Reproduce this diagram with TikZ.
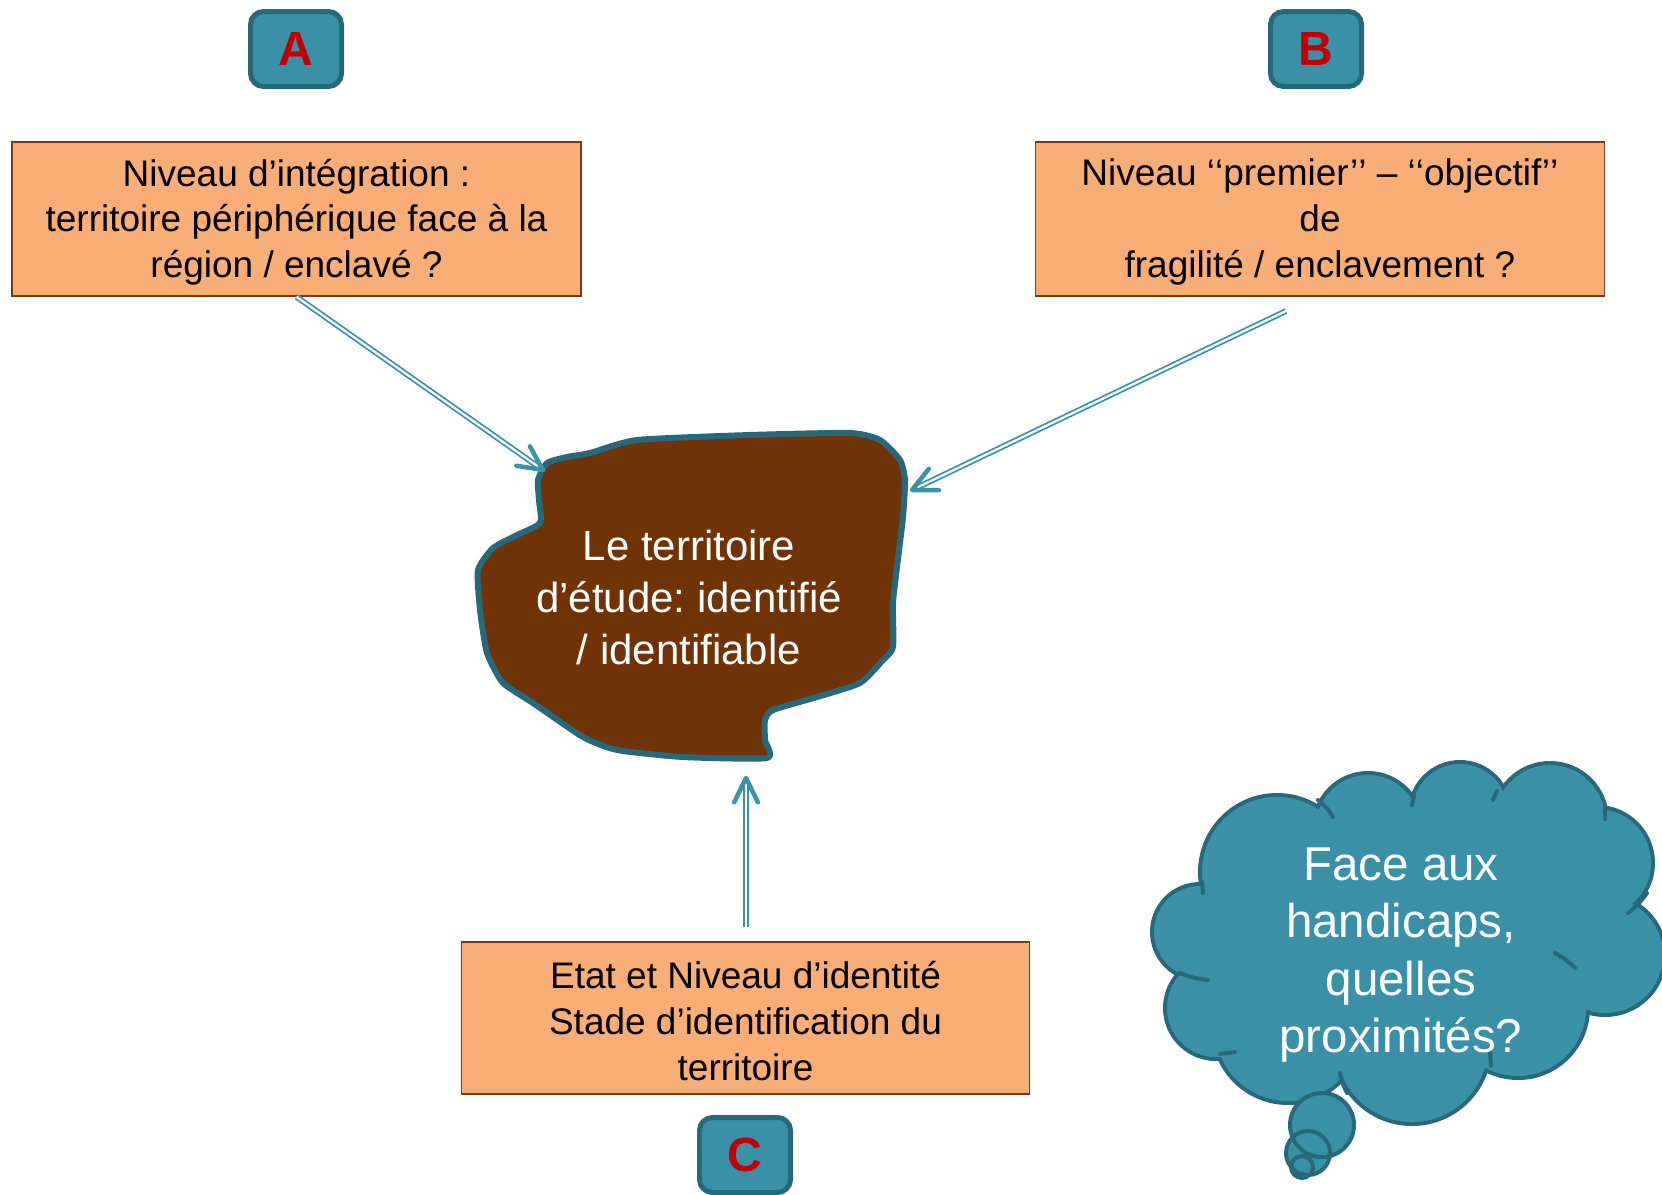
\documentclass[tikz,border=0pt]{standalone}
\usepackage{fontspec}
\setmainfont{Liberation Sans}
\usetikzlibrary{arrows.meta,calc}
\definecolor{tealfill}{HTML}{3A90A7}
\definecolor{tealdark}{HTML}{27697B}
\definecolor{orangefill}{HTML}{F9AD77}
\definecolor{orangeline}{HTML}{7A3A12}
\definecolor{blobfill}{HTML}{6F3307}
\definecolor{letterred}{HTML}{C00000}
\definecolor{arrowteal}{HTML}{3A93A8}
\begin{document}
\frenchspacing
\begin{tikzpicture}[x=1pt,y=-1pt,
  letterbox/.style={draw=tealdark, fill=tealfill, line width=5pt, rounded corners=13pt,
    minimum width=91pt, minimum height=75pt, inner sep=0pt, text=letterred,
    font=\fontsize{48}{48}\selectfont\bfseries},
  infobox/.style={draw=orangeline, fill=orangefill, line width=1.8pt, inner sep=0pt,
    align=center, font=\fontsize{37}{45.6}\selectfont},
  boxtext/.style={inner sep=0pt, align=center, font=\fontsize{37}{45.6}\selectfont},
  shaft/.style={draw=arrowteal, double=white, line width=1.8pt, double distance=2.2pt},
  tiparrow/.style={draw=arrowteal, line width=4.5pt, line cap=round, line join=round},
  puffline/.style={draw=tealdark, line width=4pt, line cap=round},
]
\useasboundingbox (0,0) rectangle (1662,1194);

% letter boxes
\node[letterbox] (A) at (296,49) {A};
\node[letterbox] (B) at (1316,49) {B};
\node[letterbox] (C) at (745,1155) {C};

% orange boxes
\node[infobox, minimum width=569pt, minimum height=154pt] (boxA) at (296.5,219) {};
\node[boxtext] (tA) at (296.5,222)
  {Niveau d’intégration :\\territoire périphérique face à la\\région / enclavé ?};
\node[infobox, minimum width=569pt, minimum height=154pt] (boxB) at (1320,219) {};
\node[boxtext] (tB) at (1320,222)
  {Niveau ‘\kern0pt‘premier’\kern0pt’ – ‘\kern0pt‘objectif’\kern0pt’\\de\\fragilité / enclavement ?};
\node[infobox, minimum width=568pt, minimum height=152pt] (boxC) at (745.5,1018) {};
\node[boxtext] (tC) at (745.5,1021)
  {Etat et Niveau d’identité\\Stade d’identification du\\territoire};

% blob
\filldraw[fill=blobfill, draw=tealdark, line width=6pt, line join=round]
  plot[smooth cycle, tension=0.35] coordinates {
  (547,463) (538,480) (539,500) (540,523) (515,536) (493,548) (478,570) (480,610)
  (487,653) (503,683) (533,703) (583,737) (617,750) (683,757) (767,758) (765,740)
  (765,720) (773,710) (817,697) (860,683) (883,660) (893,647) (893,603) (897,567)
  (903,517) (905,480) (900,460) (880,440) (850,433) (750,435) (637,440) (590,453)
  (567,457)};
\node[text=white, align=center, font=\fontsize{42}{52}\selectfont] (blob) at (689,597)
  {Le territoire\\d’étude: identifié\\/ identifiable};

% arrow ends
\coordinate (aEnd) at (543,470);
\coordinate (bStart) at (1286,311);
\coordinate (bEnd) at (912,490);
\coordinate (cStart) at (746,927);
\coordinate (cEnd) at (746,778);

\draw[shaft] (boxA.south) -- ($(aEnd)!4pt!(boxA.south)$);
\draw[tiparrow] ($(aEnd)!27pt!26:(boxA.south)$) -- (aEnd) -- ($(aEnd)!27pt!-26:(boxA.south)$);
\draw[shaft] (bStart) -- ($(bEnd)!4pt!(bStart)$);
\draw[tiparrow] ($(bEnd)!27pt!26:(bStart)$) -- (bEnd) -- ($(bEnd)!27pt!-26:(bStart)$);
\draw[shaft] (cStart) -- ($(cEnd)!4pt!(cStart)$);
\draw[tiparrow] ($(cEnd)!27pt!26:(cStart)$) -- (cEnd) -- ($(cEnd)!27pt!-26:(cStart)$);

% cloud
\def\puffs{1277/872/77, 1368/827/54, 1460/812/50, 1550/820/57, 1597/863/56,
  1605/955/60, 1518/1008/70, 1412/1046/78, 1288/1028/75, 1216/1008/51, 1200/932/48}
\foreach \x/\y/\r in \puffs {\filldraw[fill=tealfill, draw=tealdark, line width=4pt] (\x,\y) circle (\r);}
\fill[tealfill] (1277,872) -- (1368,827) -- (1460,812) -- (1550,820) -- (1597,863)
  -- (1605,955) -- (1518,1008) -- (1412,1046) -- (1288,1028) -- (1216,1008) -- (1200,932) -- cycle;
\foreach \x/\y/\r in \puffs {\fill[tealfill] (\x,\y) circle (\r-2.2);}
% inner stubs
\draw[puffline] (1318,800) to[bend left=10] (1333,817);
\draw[puffline] (1414,796) -- (1412,805);
\draw[puffline] (1497,791) -- (1493,800);
\draw[puffline] (1605,810) -- (1605,819);
\draw[puffline] (1647,893) to[bend left=8] (1628,913);
\draw[puffline] (1555,953) to[bend left=8] (1575,968);
\draw[puffline] (1490,1050) -- (1491,1066);
\draw[puffline] (1340,1073) to[bend right=8] (1347,1093);
\draw[puffline] (1220,1054) -- (1235,1052);
\draw[puffline] (1180,973) to[bend right=8] (1208,980);
\draw[puffline] (1202,882) -- (1203,893);
% thought bubbles
\fill[tealfill] (1322,1125) circle (32) (1308,1153) circle (22) (1302,1167) circle (11);
\draw[tealdark, line width=4pt] (1322,1125) circle (32) (1308,1153) circle (22) (1302,1167) circle (11);
\node[text=white, align=center, font=\fontsize{47.5}{57.5}\selectfont] (cloudtext) at (1401,955)
  {Face aux\\handicaps,\\quelles\\proximités?};
\end{tikzpicture}
\end{document}
